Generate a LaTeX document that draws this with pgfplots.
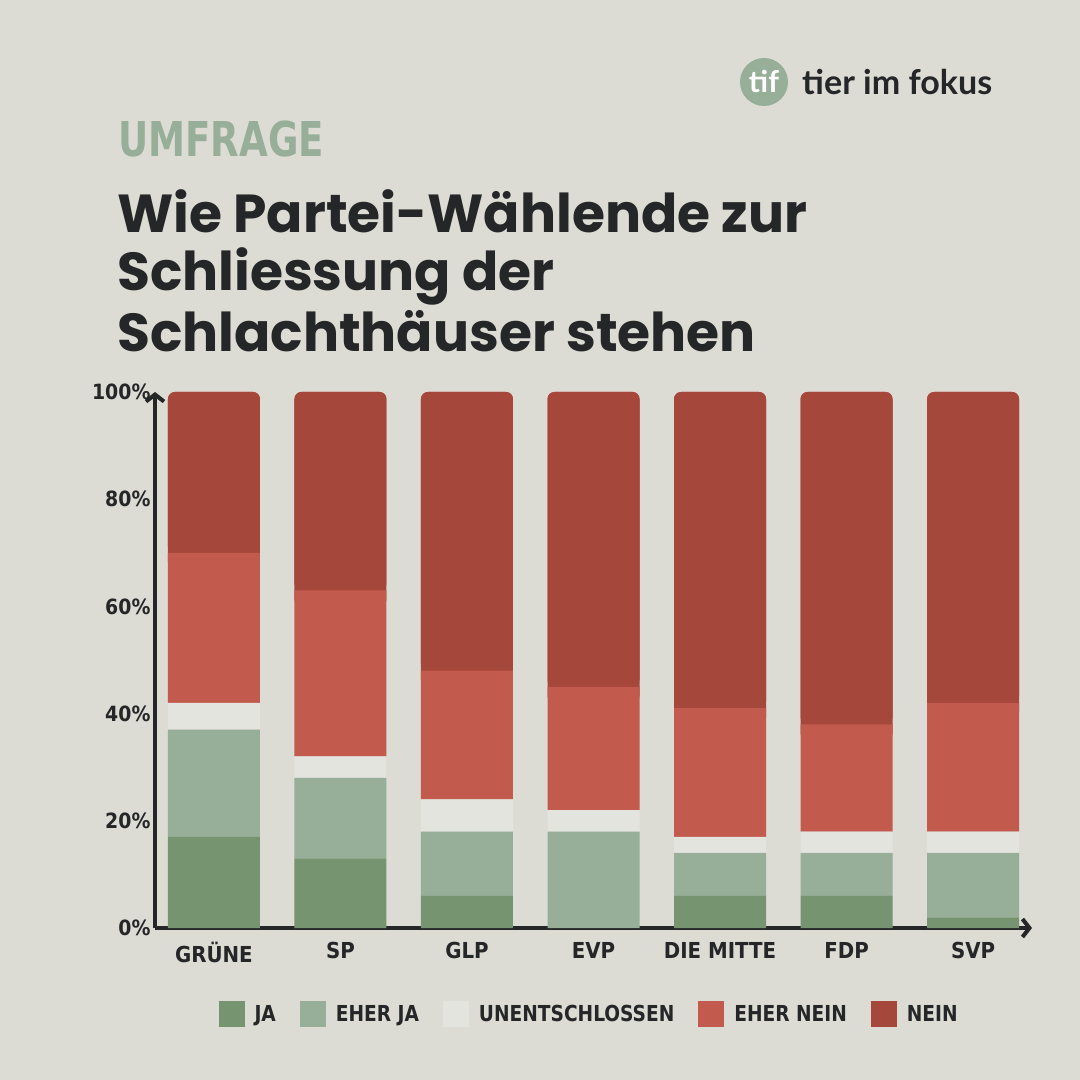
\documentclass[border=0pt]{standalone}
\usepackage{pgfplots}
\pgfplotsset{compat=1.18}
\usepackage{fontspec}
\usetikzlibrary{arrows.meta}
\setmainfont{Poppins}
\newfontfamily\titlefont{Poppins}
\newfontfamily\condfont{DejaVu Sans Condensed}
\newfontfamily\logofont{Lato}
\definecolor{bg}{HTML}{DCDBD4}
\definecolor{ja}{HTML}{76946F}
\definecolor{eherja}{HTML}{97AE98}
\definecolor{unent}{HTML}{E4E4DE}
\definecolor{ehernein}{HTML}{C25A4E}
\definecolor{nein}{HTML}{A6473B}
\definecolor{ink}{HTML}{242627}
\pgfplotsset{
  common/.style={
    at={(155pt,152pt)}, anchor=south west,
    scale only axis, width=877pt, height=536pt,
    xmin=-0.466, xmax=6.466, ymin=0, ymax=100,
    ybar stacked, bar width=92pt, clip=false,
    every axis plot/.append style={draw=none},
  }
}
\newcommand{\lt}[1]{\scalebox{0.94}[1]{#1}}
\begin{document}
\begin{tikzpicture}[x=1pt,y=1pt]
\fill[bg] (0,0) rectangle (1080,1080);
\useasboundingbox (0,0) rectangle (1080,1080);
% logo
\fill[eherja] (764,998) circle (24);
\node[text=white,font=\logofont\bfseries\fontsize{30}{30}\selectfont] at (764,999) {tif};
\node[anchor=base west,text=ink,font=\logofont\bfseries\fontsize{34}{34}\selectfont,inner sep=0] at (802,985) {tier im fokus};
% titles
\node[anchor=base west,text=eherja,font=\condfont\bfseries\fontsize{48}{48}\selectfont,inner sep=0] at (118,923) {\scalebox{0.86}[1]{UMFRAGE}};
\node[anchor=base west,text=ink,font=\titlefont\bfseries\fontsize{53.5}{53.5}\selectfont,inner sep=0] at (117,847) {Wie Partei-Wählende zur};
\node[anchor=base west,text=ink,font=\titlefont\bfseries\fontsize{53.5}{53.5}\selectfont,inner sep=0] at (117,789) {Schliessung der};
\node[anchor=base west,text=ink,font=\titlefont\bfseries\fontsize{53.5}{53.5}\selectfont,inner sep=0] at (117,728) {Schlachthäuser stehen};
% underlay: fills the rounded lower corners of the NEIN segments
\begin{axis}[common, hide axis]
\addplot[fill=none, forget plot] coordinates {(0,67) (1,60) (2,45) (3,42) (4,38) (5,35) (6,39)};
\addplot[fill=nein, rounded corners=7pt, forget plot] coordinates {(0,33) (1,40) (2,55) (3,58) (4,62) (5,65) (6,61)};
\end{axis}
\begin{axis}[
  common,
  axis lines=left,
  axis line style={line width=4pt, draw=ink, -{Straight Barb[length=7pt,width=18pt,line width=4pt]}},
  xtick=data,
  xticklabels={GRÜNE,SP,GLP,EVP,DIE MITTE,FDP,SVP},
  ytick={0,20,40,60,80,100},
  yticklabel={\pgfmathprintnumber{\tick}\%},
  /pgf/number format/assume math mode=true,
  major tick length=0pt,
  tick label style={text=ink,font=\condfont\bfseries\fontsize{22}{22}\selectfont},
  yticklabel style={font=\condfont\bfseries\fontsize{21}{21}\selectfont, xshift=-1pt},
  xticklabel style={yshift=-11pt},
  legend columns=5,
  legend style={at={(0.495,-0.16)}, anchor=center, draw=none, fill=none,
     font=\condfont\bfseries\fontsize{22}{22}\selectfont, text=ink,
     /tikz/every even column/.append style={column sep=22pt}},
  legend image code/.code={\fill[#1, sharp corners] (0pt,-13pt) rectangle (26pt,13pt); \path (34pt,0pt);},
]
\addplot[fill=ja] coordinates {(0,17) (1,13) (2,6) (3,0) (4,6) (5,6) (6,2)};
\addplot[fill=eherja] coordinates {(0,20) (1,15) (2,12) (3,18) (4,8) (5,8) (6,12)};
\addplot[fill=unent] coordinates {(0,5) (1,4) (2,6) (3,4) (4,3) (5,4) (6,4)};
\addplot[fill=ehernein] coordinates {(0,28) (1,31) (2,24) (3,23) (4,24) (5,20) (6,24)};
\addplot[fill=nein, rounded corners=7pt] coordinates {(0,30) (1,37) (2,52) (3,55) (4,59) (5,62) (6,58)};
\legend{\lt{JA},\lt{EHER JA},\lt{UNENTSCHLOSSEN},\lt{EHER NEIN},\lt{NEIN}}
\end{axis}
\end{tikzpicture}
\end{document}
